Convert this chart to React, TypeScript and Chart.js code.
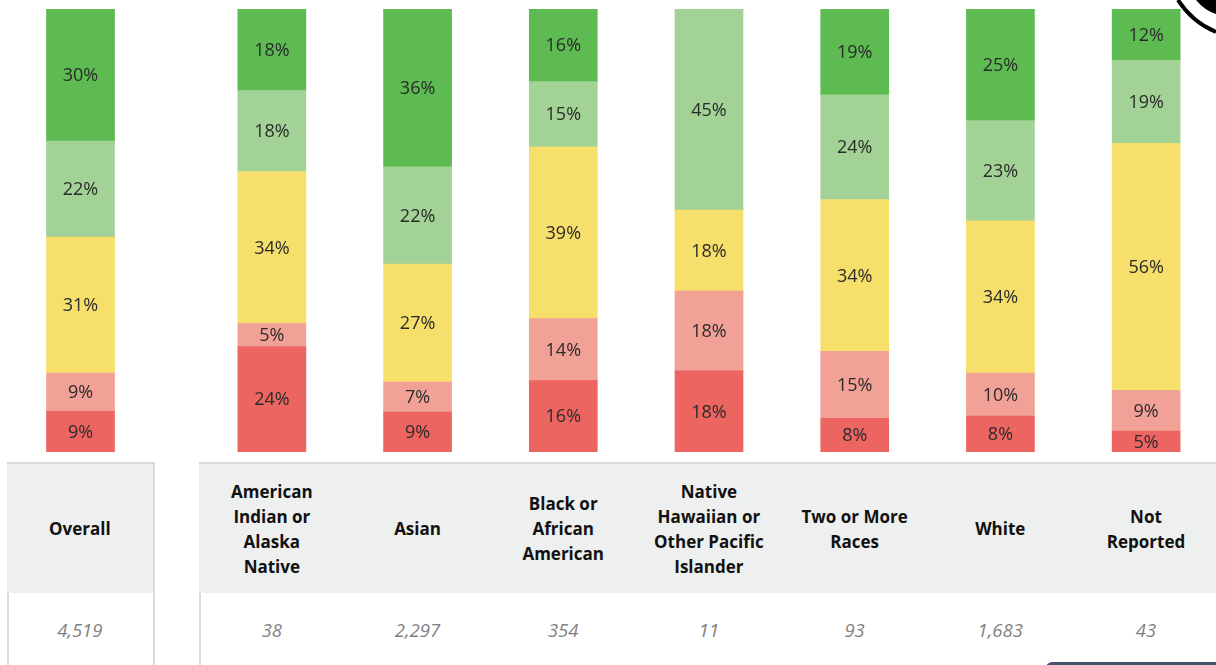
import React, { useEffect, useRef } from "react";
import { Chart, registerables } from "chart.js";

Chart.register(...registerables);

const categories = [
  "Overall",
  "American Indian or Alaska Native",
  "Asian",
  "Black or African American",
  "Native Hawaiian or Other Pacific Islander",
  "Two or More Races",
  "White",
  "Not Reported",
];

const headerLines = [
  ["Overall"],
  ["American", "Indian or", "Alaska", "Native"],
  ["Asian"],
  ["Black or", "African", "American"],
  ["Native", "Hawaiian or", "Other Pacific", "Islander"],
  ["Two or More", "Races"],
  ["White"],
  ["Not", "Reported"],
];

const counts = ["4,519", "38", "2,297", "354", "11", "93", "1,683", "43"];

// stacked from bottom to top (percent)
const redValues = [9.2, 23.8, 9.0, 16.1, 18.3, 7.6, 8.1, 4.7];
const pinkValues = [8.6, 5.2, 6.8, 14.0, 18.0, 15.1, 9.7, 9.2];
const yellowValues = [30.7, 34.3, 26.6, 38.8, 18.3, 34.3, 34.4, 55.8];
const lightGreenValues = [21.7, 18.3, 22.0, 14.7, 45.4, 23.6, 22.6, 18.7];
const greenValues = [29.8, 18.4, 35.6, 16.4, 0, 19.4, 25.2, 11.6];

const series = [
  { label: "Red", data: redValues, color: "#ec6560" },
  { label: "Pink", data: pinkValues, color: "#f2a196" },
  { label: "Yellow", data: yellowValues, color: "#f6df6a" },
  { label: "Light green", data: lightGreenValues, color: "#a2d295" },
  { label: "Green", data: greenValues, color: "#5dbb52" },
];

const FONT = "'Open Sans', 'DejaVu Sans', sans-serif";

const labelPlugin = {
  id: "segmentLabels",
  afterDatasetsDraw(chart: any) {
    const ctx = chart.ctx;
    ctx.save();
    ctx.font = `18px ${FONT}`;
    ctx.fillStyle = "#2b2b2b";
    ctx.textAlign = "center";
    ctx.textBaseline = "middle";
    chart.data.datasets.forEach((ds: any, i: number) => {
      const meta = chart.getDatasetMeta(i);
      meta.data.forEach((bar: any, j: number) => {
        const v = ds.data[j];
        if (!v) return;
        const p = bar.getProps(["x", "y", "base"], true);
        ctx.fillText(Math.round(v) + "%", p.x, (p.y + p.base) / 2 + 1);
      });
    });
    ctx.restore();
  },
};

function BarPanel({ start, end, width }: { start: number; end: number; width: number }) {
  const ref = useRef<HTMLCanvasElement | null>(null);
  useEffect(() => {
    if (!ref.current) return;
    const chart = new Chart(ref.current, {
      type: "bar",
      data: {
        labels: categories.slice(start, end),
        datasets: series.map((s) => ({
          label: s.label,
          data: s.data.slice(start, end),
          backgroundColor: s.color,
          borderWidth: 0,
          barThickness: 68,
        })),
      },
      options: {
        responsive: false,
        animation: false,
        devicePixelRatio: 1,
        layout: { padding: { top: 9, bottom: 8, left: 0, right: 0 } },
        plugins: { legend: { display: false }, tooltip: { enabled: false } },
        scales: {
          x: { stacked: true, display: false },
          y: { stacked: true, display: false, min: 0, max: 100 },
        },
      },
      plugins: [labelPlugin],
    });
    return () => chart.destroy();
  }, [start, end]);
  return <canvas ref={ref} width={width} height={460} style={{ display: "block" }} />;
}

const COL_W = 145.7;

function TablePanel({ start, end, left, width }: { start: number; end: number; left: number; width: number }) {
  const cols = [];
  for (let i = start; i < end; i++) cols.push(i);
  return (
    <div
      style={{
        position: "absolute",
        left,
        top: 462,
        width,
        height: 220,
        border: "2px solid #dadada",
        borderBottom: "none",
        boxSizing: "border-box",
        display: "flex",
        fontFamily: FONT,
      }}
    >
      {cols.map((i) => (
        <div key={i} style={{ width: COL_W, flex: "0 0 auto", marginLeft: i === start ? -2 : 0 }}>
          <div
            style={{
              height: 129,
              background: "#eeefef",
              display: "flex",
              flexDirection: "column",
              alignItems: "center",
              justifyContent: "center",
              fontWeight: 700,
              fontSize: 17,
              lineHeight: "25px",
              color: "#111",
              textAlign: "center",
            }}
          >
            {headerLines[i].map((l, k) => (
              <div key={k}>{l}</div>
            ))}
          </div>
          <div
            style={{
              height: 72,
              display: "flex",
              alignItems: "center",
              justifyContent: "center",
              fontStyle: "italic",
              fontSize: 18.5,
              color: "#7f7f7f",
            }}
          >
            {counts[i]}
          </div>
        </div>
      ))}
    </div>
  );
}

export default function App() {
  useEffect(() => {
    document.body.style.margin = "0";
  }, []);
  return (
    <div
      style={{
        position: "relative",
        width: 1216,
        height: 665,
        overflow: "hidden",
        background: "#ffffff",
      }}
    >
      <div style={{ position: "absolute", left: 7, top: 0 }}>
        <BarPanel start={0} end={1} width={147} />
      </div>
      <div style={{ position: "absolute", left: 199, top: 0 }}>
        <BarPanel start={1} end={8} width={1020} />
      </div>
      <TablePanel start={0} end={1} left={7} width={148} />
      <TablePanel start={1} end={8} left={199} width={1030} />
      <svg
        style={{ position: "absolute", left: 1160, top: 0 }}
        width={56}
        height={40}
        viewBox="0 0 56 40"
      >
        <path d="M18 0 Q 32 22 56 32" fill="none" stroke="#000" strokeWidth={4} />
        <path d="M36 0 Q 44 10 56 14 L 56 0 Z" fill="#000" />
      </svg>
      <div
        style={{
          position: "absolute",
          left: 1046,
          top: 662,
          width: 190,
          height: 12,
          background: "#44546a",
          borderRadius: 6,
        }}
      />
    </div>
  );
}
